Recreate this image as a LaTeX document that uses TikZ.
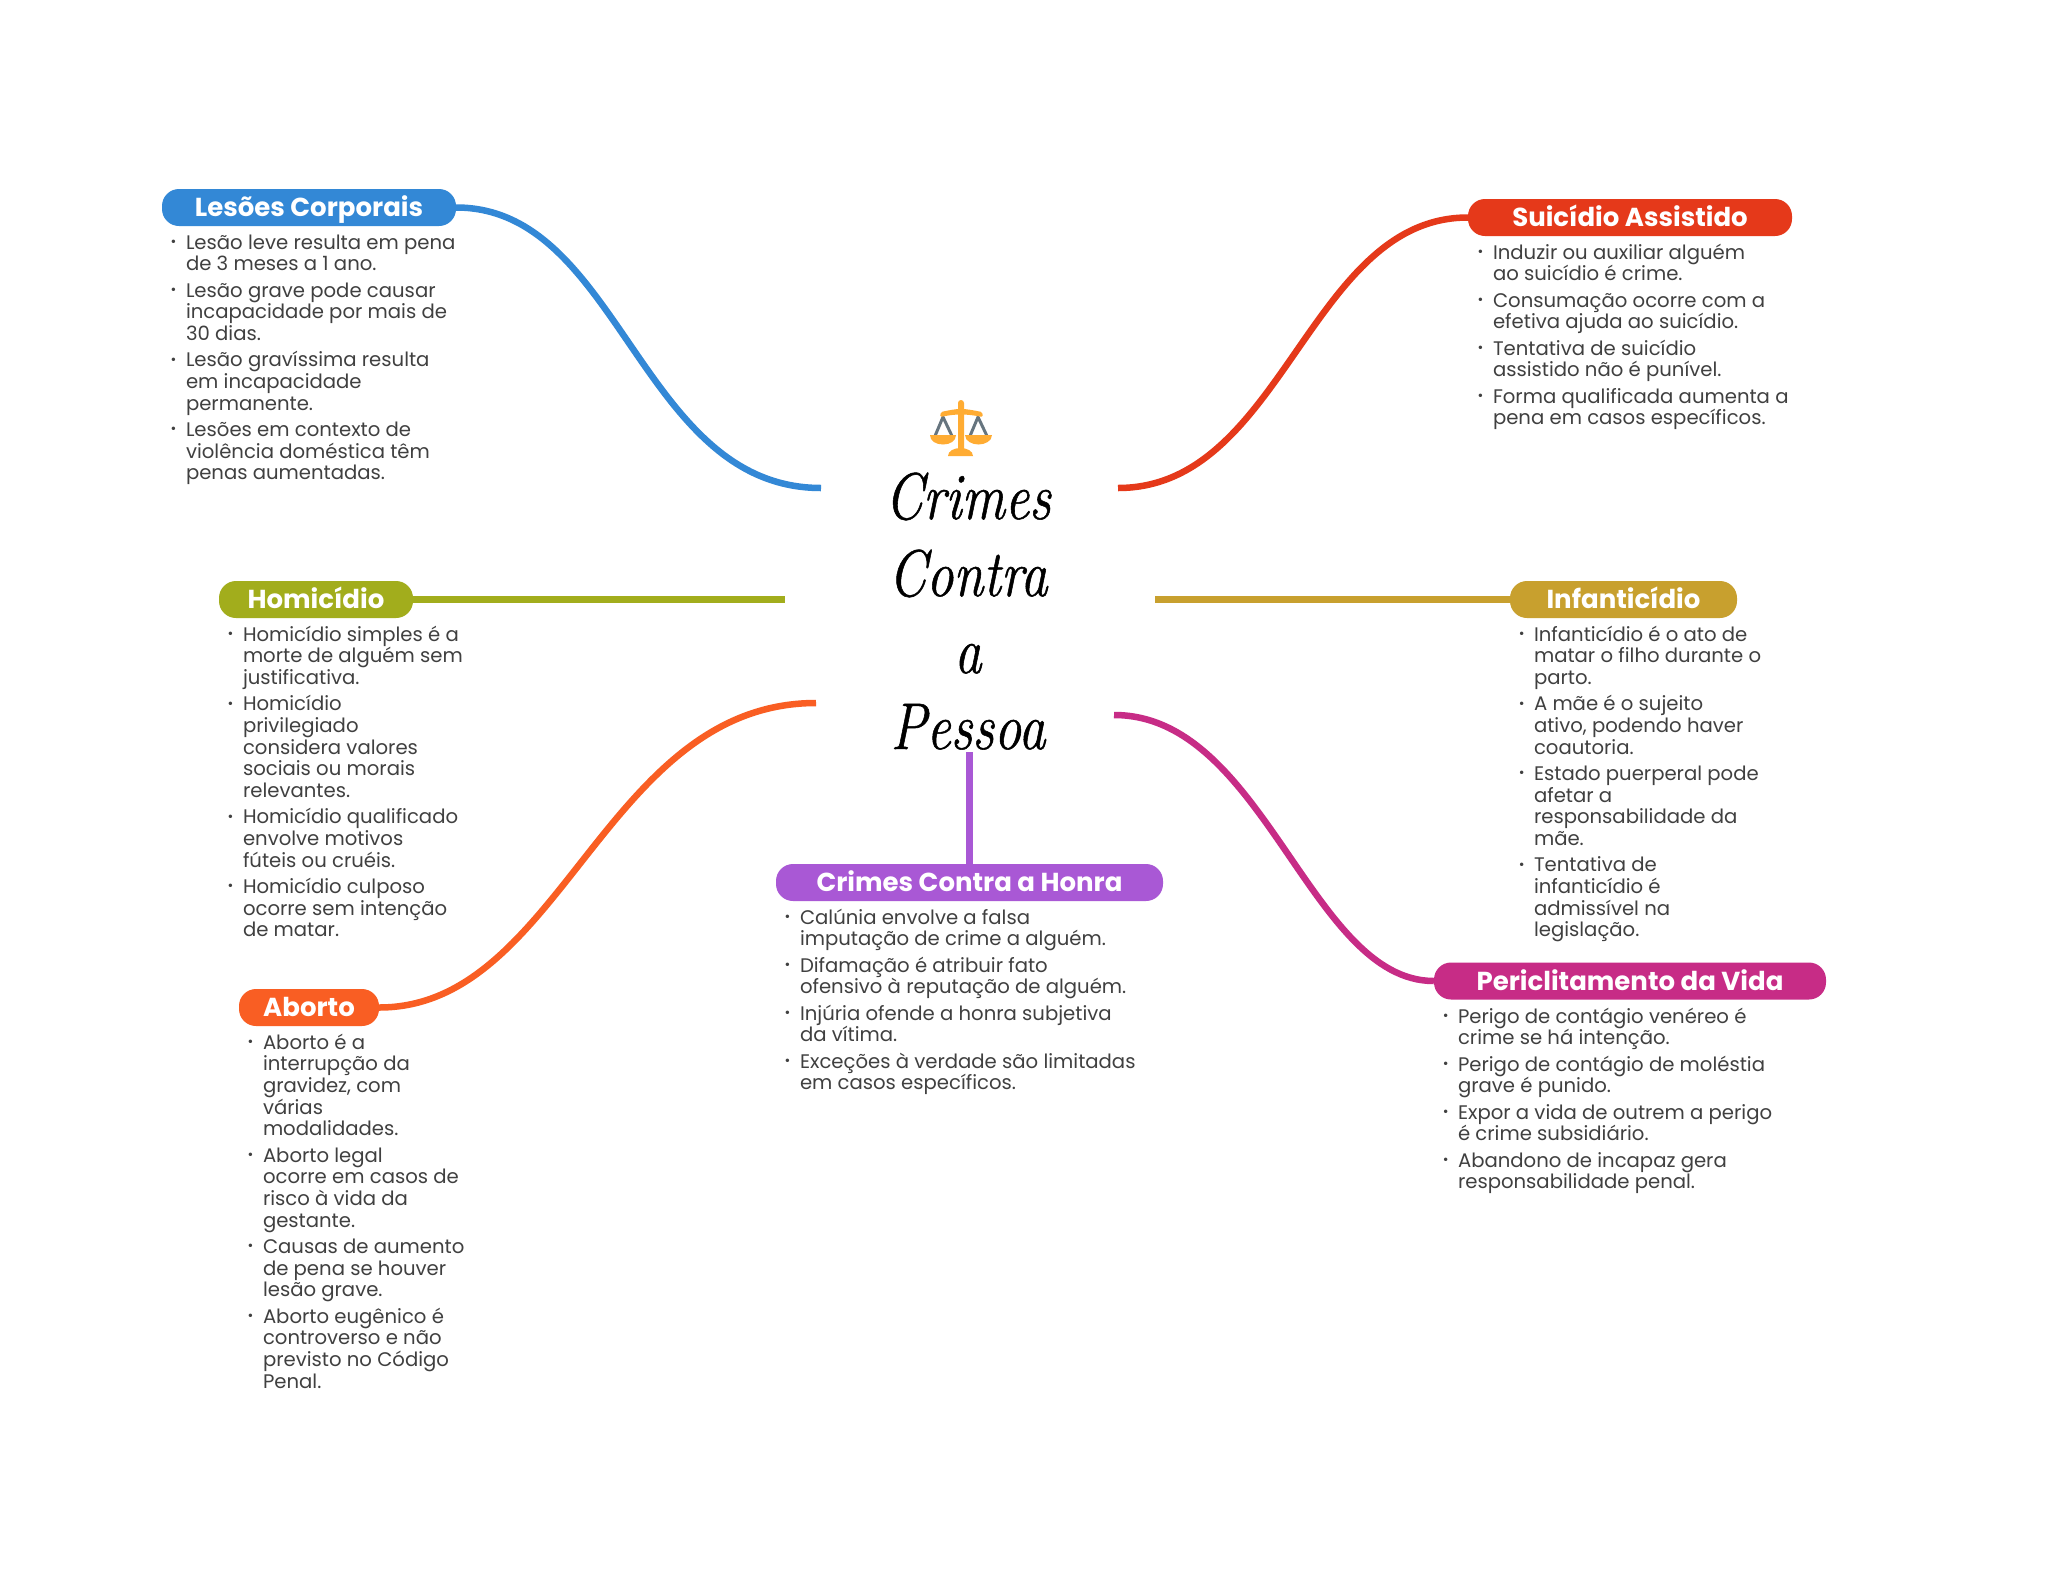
\documentclass[tikz,border=0pt]{standalone}
\usepackage{fontspec}
\setmainfont{Poppins}
\newfontfamily\titlefont[FakeStretch=0.82,FakeBold=0.8]{Latin Modern Roman}
\definecolor{cblue}{HTML}{3388D6}
\definecolor{cred}{HTML}{E5391A}
\definecolor{cgreen}{HTML}{A2AD1C}
\definecolor{cgold}{HTML}{C8A02E}
\definecolor{corange}{HTML}{F95E23}
\definecolor{cpink}{HTML}{C72C86}
\definecolor{cpurple}{HTML}{A958D5}
\definecolor{cbody}{HTML}{404040}
\definecolor{scaleorange}{HTML}{FFAC33}
\definecolor{scalegray}{HTML}{66757F}
\newcommand{\itm}{\leavevmode\llap{\raisebox{2.6pt}{\fontsize{14}{14}\selectfont •}\hspace{9.5pt}}}
\newcommand{\fst}{\rule{0pt}{20pt}}
\newcommand{\brk}{\\[4.6pt]}
\tikzset{
  pill/.style={rectangle, rounded corners=17pt, fill=#1, text=white, inner sep=0pt,
    minimum height=37pt, text height=24.6pt, text depth=6pt, font=\fontsize{26}{30}\bfseries\selectfont},
  listbox/.style={anchor=north west, inner sep=0pt, outer sep=0pt, align=left, text=cbody,
    font=\fontsize{19.65}{21.7}\selectfont},
  link/.style={line width=6.5pt, draw=#1},
  titleline/.style={anchor=base, inner sep=0pt, font=\fontsize{66}{70}\titlefont\itshape, text=black}
}
\begin{document}
\begin{tikzpicture}[x=1pt,y=-1pt]
\useasboundingbox (0,0) rectangle (2048,1569);
\fill[white] (0,0) rectangle (2048,1569);

% pills
\node[pill=cblue, minimum width=294pt] (les) at (309,207.5) {Lesões Corporais};
\node[pill=cred, minimum width=324pt] (sui) at (1630,217.5) {Suicídio Assistido};
\node[pill=cgreen, minimum width=194pt] (hom) at (316,599.5) {Homicídio};
\node[pill=cgold, minimum width=227pt] (inf) at (1623.5,599.5) {Infanticídio};
\node[pill=corange, minimum width=140pt] (abo) at (309,1007.5) {Aborto};
\node[pill=cpurple, minimum width=387pt] (hon) at (969.5,882.5) {Crimes Contra a Honra};
\node[pill=cpink, minimum width=392pt] (per) at (1630,981) {Periclitamento da Vida};

% free ends at the centre
\coordinate (eles) at (821,488);
\coordinate (esui) at (1118,488);
\coordinate (ehom) at (785,599.5);
\coordinate (einf) at (1155,599.5);
\coordinate (eabo) at (816,703);
\coordinate (eper) at (1114,715);
\coordinate (ehon) at (969.5,752);

% connectors
\draw[link=cblue] (les.east) .. controls (620,207.5) and (640,488) .. (eles);
\draw[link=cred] (sui.west) .. controls (1309,217.5) and (1283,488) .. (esui);
\draw[link=cgreen] (hom.east) -- (ehom);
\draw[link=cgold] (inf.west) -- (einf);
\draw[link=corange] (abo.east) .. controls (561,1007.5) and (605,703) .. (eabo);
\draw[link=cpink] (per.west) .. controls (1310,981) and (1264,715) .. (eper);
\draw[line width=7pt, draw=cpurple] (hon.north) -- (ehon);

% lists
\node[listbox] (lles) at (186,229) {\fst\itm Lesão leve resulta em pena\\de 3 meses a 1 ano.\brk
\itm Lesão grave pode causar\\incapacidade por mais de\\30 dias.\brk
\itm Lesão gravíssima resulta\\em incapacidade\\permanente.\brk
\itm Lesões em contexto de\\violência doméstica têm\\penas aumentadas.};

\node[listbox] (lsui) at (1493,239) {\fst\itm Induzir ou auxiliar alguém\\ao suicídio é crime.\brk
\itm Consumação ocorre com a\\efetiva ajuda ao suicídio.\brk
\itm Tentativa de suicídio\\assistido não é punível.\brk
\itm Forma qualificada aumenta a\\pena em casos específicos.};

\node[listbox] (lhom) at (243,621) {\fst\itm Homicídio simples é a\\morte de alguém sem\\justificativa.\brk
\itm Homicídio\\privilegiado\\considera valores\\sociais ou morais\\relevantes.\brk
\itm Homicídio qualificado\\envolve motivos\\fúteis ou cruéis.\brk
\itm Homicídio culposo\\ocorre sem intenção\\de matar.};

\node[listbox] (linf) at (1534,621) {\fst\itm Infanticídio é o ato de\\matar o filho durante o\\parto.\brk
\itm A mãe é o sujeito\\ativo, podendo haver\\coautoria.\brk
\itm Estado puerperal pode\\afetar a\\responsabilidade da\\mãe.\brk
\itm Tentativa de\\infanticídio é\\admissível na\\legislação.};

\node[listbox] (labo) at (263,1029) {\fst\itm Aborto é a\\interrupção da\\gravidez, com\\várias\\modalidades.\brk
\itm Aborto legal\\ocorre em casos de\\risco à vida da\\gestante.\brk
\itm Causas de aumento\\de pena se houver\\lesão grave.\brk
\itm Aborto eugênico é\\controverso e não\\previsto no Código\\Penal.};

\node[listbox] (lhon) at (800,904) {\fst\itm Calúnia envolve a falsa\\imputação de crime a alguém.\brk
\itm Difamação é atribuir fato\\ofensivo à reputação de alguém.\brk
\itm Injúria ofende a honra subjetiva\\da vítima.\brk
\itm Exceções à verdade são limitadas\\em casos específicos.};

\node[listbox] (lper) at (1458,1003) {\fst\itm Perigo de contágio venéreo é\\crime se há intenção.\brk
\itm Perigo de contágio de moléstia\\grave é punido.\brk
\itm Expor a vida de outrem a perigo\\é crime subsidiário.\brk
\itm Abandono de incapaz gera\\responsabilidade penal.};

% title
\node[titleline] (t1) at (968,519) {Crimes};
\node[titleline] (t2) at (968,596) {Contra};
\node[titleline] (t3) at (968,673) {a};
\node[titleline] (t4) at (968,749) {Pessoa};

% scales icon
\draw[scalegray, line width=3pt, line join=round] (935,436) -- (943,417) -- (952,436);
\draw[scalegray, line width=3pt, line join=round] (970,436) -- (978,417) -- (987,436);
\fill[scaleorange] (958,403) arc[start angle=180, end angle=360, radius=3] -- (964,449) -- (958,449) -- cycle;
\fill[scaleorange, rounded corners=1.5pt] (940,417) -- (941,412) .. controls (950,410) and (956,409) .. (961,409) .. controls (966,409) and (972,410) .. (982,412) -- (983,417) .. controls (972,415) and (966,414.5) .. (961,414.5) .. controls (956,414.5) and (950,415) .. (940,417) -- cycle;
\fill[scaleorange] (930,435) -- (956,435) .. controls (956,441) and (950,444.5) .. (943,444.5) .. controls (936,444.5) and (930,441) .. (930,435) -- cycle;
\fill[scaleorange] (965,435) -- (992,435) .. controls (992,441) and (985,444.5) .. (978.5,444.5) .. controls (972,444.5) and (965,441) .. (965,435) -- cycle;
\fill[scaleorange] (948,456) .. controls (948,451) and (954,448) .. (960.5,448) .. controls (967,448) and (973,451) .. (973,456) -- cycle;
\end{tikzpicture}
\end{document}
